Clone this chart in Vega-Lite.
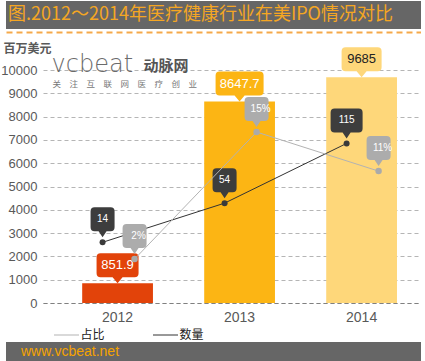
{
  "$schema": "https://vega.github.io/schema/vega-lite/v6.json",
  "padding": {"left": 0, "top": 1, "right": 0, "bottom": 0},
  "columns": 1,
  "spacing": 1,
  "background": "white",
  "resolve": {"scale": {"stroke": "independent", "color": "independent", "shape": "independent"}},
  "config": {"view": {"stroke": null}, "font": "Liberation Sans"},
  "datasets": {
    "ipo": [
      {"year": "2012", "ipo": 851.9, "count": 14, "pct": 0.02},
      {"year": "2013", "ipo": 8647.7, "count": 54, "pct": 0.15},
      {"year": "2014", "ipo": 9685, "count": 115, "pct": 0.11}
    ],
    "banner": [{"title": "图.2012～2014年医疗健康行业在美IPO情况对比"}],
    "logo": [{"brand": "vcbeat", "cn": "动脉网", "slogan": "关　注　互　联　网　医　疗　创　业"}],
    "footer": [{"site": "www.vcbeat.net"}]
  },
  "concat": [
    {
      "data": {"name": "banner"},
      "width": 415,
      "height": 28,
      "view": {"fill": "#666666", "stroke": null},
      "mark": {"type": "text", "align": "left", "baseline": "middle", "dx": 2, "font": "Noto Sans CJK SC", "fontSize": 18, "color": "#F5A623"},
      "encoding": {
        "text": {"field": "title"},
        "x": {"datum": "t", "type": "nominal", "scale": {"type": "point", "padding": 0, "align": 0},
              "axis": {"orient": "bottom", "offset": 3, "labels": false, "ticks": true, "tickColor": "transparent", "tickSize": 8, "domainColor": "#F5A94A", "domainWidth": 2, "domainDash": [6, 4], "title": null, "grid": false}},
        "y": {"datum": "t", "type": "nominal", "scale": {"type": "point", "padding": 0}, "axis": null}
      }
    },
    {
      "width": 415,
      "height": 233,
      "data": {"name": "ipo"},
      "resolve": {"scale": {"y": "independent", "shape": "independent"}},
      "layer": [
        {
          "mark": {"type": "bar"},
          "encoding": {
            "x": {"field": "year", "type": "nominal",
                  "scale": {"range": [37, 415], "paddingInner": 0.42, "paddingOuter": 0.259, "align": 0.62},
                  "axis": {"title": null, "labelAngle": 0, "labelFontSize": 14, "labelColor": "#595959", "labelPadding": 7, "ticks": false, "domain": true, "domainDash": [4, 3], "domainColor": "#808080"}},
            "y": {"field": "ipo", "type": "quantitative", "scale": {"domain": [0, 10000]},
                  "axis": {"values": [0, 1000, 2000, 3000, 4000, 5000, 6000, 7000, 8000, 9000, 10000], "tickCount": 12, "format": "d", "offset": -37, "labelOverlap": false, "grid": true, "gridDash": [4, 3], "gridColor": "#b5b5b5", "ticks": false, "domain": false, "labelFontSize": 13, "labelColor": "#595959", "labelPadding": 6,
                           "title": "百万美元", "titleAngle": 0, "titleAlign": "left", "titleBaseline": "middle", "titleX": -40, "titleY": -22, "titleFont": "Noto Sans CJK SC", "titleFontSize": 12, "titleFontWeight": "bold", "titleColor": "#595959"}},
            "color": {"field": "year", "type": "nominal", "scale": {"domain": ["2012", "2013", "2014"], "range": ["#E2430A", "#FCB514", "#FED77A"]}, "legend": null}
          }
        },
        {
          "mark": {"type": "point", "filled": true, "size": 4, "opacity": 1, "strokeWidth": 0},
          "encoding": {
            "x": {"field": "year", "type": "nominal"},
            "y": {"field": "ipo", "type": "quantitative", "scale": {"domain": [0, 10000]}, "axis": null},
            "color": {"field": "year", "type": "nominal", "legend": null},
            "shape": {"field": "year", "type": "nominal", "legend": null,
                      "scale": {"domain": ["2012", "2013", "2014"], "range": [
                        "M0,0L-5,-6L-17,-6Q-21,-6,-21,-10L-21,-26Q-21,-30,-17,-30L17,-30Q21,-30,21,-26L21,-10Q21,-6,17,-6L5,-6Z",
                        "M0,0L-5,-6L-20,-6Q-24,-6,-24,-10L-24,-26Q-24,-30,-20,-30L20,-30Q24,-30,24,-26L24,-10Q24,-6,20,-6L5,-6Z",
                        "M0,0L-5,-6L-16,-6Q-20,-6,-20,-10L-20,-26Q-20,-30,-16,-30L16,-30Q20,-30,20,-26L20,-10Q20,-6,16,-6L5,-6Z"]}}
          }
        },
        {
          "mark": {"type": "text", "fontSize": 13, "yOffset": -18, "baseline": "middle"},
          "encoding": {
            "x": {"field": "year", "type": "nominal"},
            "y": {"field": "ipo", "type": "quantitative", "scale": {"domain": [0, 10000]}, "axis": null},
            "text": {"field": "ipo", "type": "quantitative", "format": "~f"},
            "color": {"condition": {"test": "datum.year === '2014'", "value": "#222222"}, "value": "#ffffff"}
          }
        },
        {
          "data": {"name": "logo"},
          "mark": {"type": "text", "align": "left", "baseline": "alphabetic", "dx": -66, "font": "DejaVu Sans", "fontWeight": 200, "fontSize": 24, "color": "#6b6b6b"},
          "encoding": {
            "x": {"datum": "2012", "type": "nominal"},
            "y": {"datum": 9930, "type": "quantitative", "scale": {"domain": [0, 10000]}, "axis": null},
            "text": {"field": "brand"}
          }
        },
        {
          "data": {"name": "logo"},
          "mark": {"type": "text", "align": "left", "baseline": "middle", "dx": 26, "font": "Noto Sans CJK SC", "fontWeight": "bold", "fontSize": 15, "color": "#555555"},
          "encoding": {
            "x": {"datum": "2012", "type": "nominal"},
            "y": {"datum": 10190, "type": "quantitative", "scale": {"domain": [0, 10000]}, "axis": null},
            "text": {"field": "cn"}
          }
        },
        {
          "data": {"name": "logo"},
          "mark": {"type": "text", "align": "left", "baseline": "middle", "dx": -65, "font": "Noto Sans CJK SC", "fontSize": 8.5, "color": "#777777"},
          "encoding": {
            "x": {"datum": "2012", "type": "nominal"},
            "y": {"datum": 9410, "type": "quantitative", "scale": {"domain": [0, 10000]}, "axis": null},
            "text": {"field": "slogan"}
          }
        },
        {
          "mark": {"type": "line", "strokeWidth": 1, "xOffset": -15},
          "encoding": {
            "x": {"field": "year", "type": "nominal"},
            "y": {"field": "count", "type": "quantitative", "scale": {"domain": [-48, 190]}, "axis": null},
            "stroke": {"datum": "数量", "type": "nominal",
                       "scale": {"domain": ["占比", "数量"], "range": ["#b3b3b3", "#333333"]},
                       "legend": {"orient": "none", "legendX": 54.5, "legendY": 259, "direction": "horizontal", "title": null, "symbolType": "M-2.5,0H2.5", "symbolSize": 100, "symbolStrokeWidth": 1, "labelFontSize": 12, "labelFont": "Noto Sans CJK SC", "labelColor": "#222222", "labelOffset": 8, "columnPadding": 45, "padding": 0}}
          }
        },
        {
          "mark": {"type": "circle", "size": 36, "color": "#3a3a3a", "opacity": 1, "xOffset": -15},
          "encoding": {
            "x": {"field": "year", "type": "nominal"},
            "y": {"field": "count", "type": "quantitative", "scale": {"domain": [-48, 190]}, "axis": null}
          }
        },
        {
          "mark": {"type": "point", "filled": true, "size": 4, "opacity": 1, "strokeWidth": 0, "color": "#3d3d3d", "yOffset": -5, "xOffset": -15},
          "encoding": {
            "x": {"field": "year", "type": "nominal"},
            "y": {"field": "count", "type": "quantitative", "scale": {"domain": [-48, 190]}, "axis": null},
            "shape": {"field": "year", "type": "nominal", "legend": null,
                      "scale": {"domain": ["2012", "2013", "2014"], "range": [
                        "M0,0L-4,-6L-8,-6Q-12,-6,-12,-10L-12,-26Q-12,-30,-8,-30L8,-30Q12,-30,12,-26L12,-10Q12,-6,8,-6L4,-6Z",
                        "M0,0L-4,-6L-8,-6Q-12,-6,-12,-10L-12,-26Q-12,-30,-8,-30L8,-30Q12,-30,12,-26L12,-10Q12,-6,8,-6L4,-6Z",
                        "M0,0L-4,-6L-12,-6Q-16,-6,-16,-10L-16,-26Q-16,-30,-12,-30L12,-30Q16,-30,16,-26L16,-10Q16,-6,12,-6L4,-6Z"]}}
          }
        },
        {
          "mark": {"type": "text", "fontSize": 10, "color": "#ffffff", "baseline": "middle", "yOffset": -23, "xOffset": -15},
          "encoding": {
            "x": {"field": "year", "type": "nominal"},
            "y": {"field": "count", "type": "quantitative", "scale": {"domain": [-48, 190]}, "axis": null},
            "text": {"field": "count", "type": "quantitative"}
          }
        },
        {
          "mark": {"type": "line", "strokeWidth": 1, "xOffset": 17},
          "encoding": {
            "x": {"field": "year", "type": "nominal"},
            "y": {"field": "pct", "type": "quantitative", "scale": {"domain": [-0.025, 0.2135]}, "axis": null},
            "stroke": {"datum": "占比", "type": "nominal"}
          }
        },
        {
          "mark": {"type": "circle", "size": 42, "color": "#aaaaaa", "opacity": 1, "xOffset": 17},
          "encoding": {
            "x": {"field": "year", "type": "nominal"},
            "y": {"field": "pct", "type": "quantitative", "scale": {"domain": [-0.025, 0.2135]}, "axis": null}
          }
        },
        {
          "mark": {"type": "point", "filled": true, "size": 4, "opacity": 1, "strokeWidth": 0, "color": "#acacac", "yOffset": -5, "xOffset": 17,
                   "shape": "M0,0L-4,-6L-8,-6Q-12,-6,-12,-10L-12,-26Q-12,-30,-8,-30L8,-30Q12,-30,12,-26L12,-10Q12,-6,8,-6L4,-6Z"},
          "encoding": {
            "x": {"field": "year", "type": "nominal"},
            "y": {"field": "pct", "type": "quantitative", "scale": {"domain": [-0.025, 0.2135]}, "axis": null}
          }
        },
        {
          "mark": {"type": "text", "fontSize": 10, "color": "#ffffff", "baseline": "middle", "yOffset": -23, "xOffset": 17, "dx": 4},
          "encoding": {
            "x": {"field": "year", "type": "nominal"},
            "y": {"field": "pct", "type": "quantitative", "scale": {"domain": [-0.025, 0.2135]}, "axis": null},
            "text": {"field": "pct", "type": "quantitative", "format": ".0%"}
          }
        }
      ]
    },
    {
      "data": {"name": "footer"},
      "width": 415,
      "height": 19,
      "view": {"fill": "#666666", "stroke": null},
      "mark": {"type": "text", "align": "left", "baseline": "middle", "dx": 15, "fontSize": 14, "color": "#F5A300", "font": "Liberation Sans"},
      "encoding": {
        "text": {"field": "site"},
        "x": {"datum": "s", "type": "nominal", "scale": {"type": "point", "padding": 0, "align": 0}, "axis": null},
        "y": {"datum": "s", "type": "nominal", "scale": {"type": "point", "padding": 0}, "axis": null}
      }
    }
  ]
}
